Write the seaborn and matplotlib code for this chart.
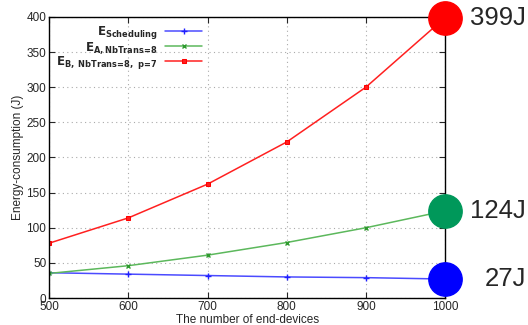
import matplotlib
matplotlib.use('Agg')
import matplotlib.pyplot as plt
import seaborn as sns
import pandas as pd

# Data
devices = [500, 600, 700, 800, 900, 1000]
e_sched = [36, 34, 32, 30, 29, 27]
e_a = [35, 46, 61, 79, 100, 124]
e_b = [78, 114, 162, 222, 300, 399]

end_labels = ['399J', '124J', '27J']
end_values = [e_b[-1], e_a[-1], e_sched[-1]]
end_colors = ['#ff0000', '#00985a', '#0000ff']

sns.set_style('ticks')
plt.rcParams['font.family'] = ['Liberation Sans', 'DejaVu Sans']

df = pd.DataFrame({'devices': devices, 'sched': e_sched, 'a': e_a, 'b': e_b})

fig = plt.figure(figsize=(5.28, 3.25), dpi=100)
ax = fig.add_axes([0.093, 0.083, 0.75, 0.865])

sns.lineplot(data=df, x='devices', y='sched', ax=ax, color='#4b4bff', marker='+',
             markersize=4, markeredgewidth=1, markeredgecolor='#2020ff', lw=1.1,
             label=r'$\mathbf{E_{Scheduling}}$')
sns.lineplot(data=df, x='devices', y='a', ax=ax, color='#5cb85c', marker='x',
             markersize=3, markeredgewidth=1, markeredgecolor='#2e9a2e', lw=1.1,
             label=r'$\mathbf{E_{A,NbTrans\!=\!8}}$')
sns.lineplot(data=df, x='devices', y='b', ax=ax, color='#ff2020', marker='s',
             markersize=2.5, markeredgecolor='#ff0000', lw=1.1,
             label=r'$\mathbf{E_{B,\ NbTrans\!=\!8,\ p\!=\!7}}$')

# big end-point circles with annotations
for val, lab, col in zip(end_values, end_labels, end_colors):
    ax.plot([devices[-1]], [val], 'o', color=col, markersize=24, clip_on=False, zorder=5)
    ax.annotate(lab, (devices[-1], val), xytext=(58, 0), textcoords='offset points',
                va='center', ha='right', fontsize=18.5, annotation_clip=False)

ax.set_xlim(500, 1000)
ax.set_ylim(0, 400)
ax.set_xticks(devices)
ax.set_yticks(range(0, 401, 50))
ax.grid(True, color='#aaaaaa', linestyle=(0, (1, 3)), lw=0.8)
ax.tick_params(direction='in', top=True, right=True, labelsize=8.5, length=4, pad=2)
for s in ax.spines.values():
    s.set_linewidth(1.0)
    s.set_color('black')

ax.set_xlabel('The number of end-devices', fontsize=8.5, labelpad=1)
ax.set_ylabel('Energy-consumption (J)', fontsize=8.5, labelpad=2)

leg = ax.legend(loc='upper left', bbox_to_anchor=(0.0, 1.0), frameon=False, markerfirst=False,
                fontsize=8.5, handlelength=3.2, labelspacing=-0.1, borderaxespad=0.2,
                handletextpad=0.6)
for t in leg.get_texts():
    t.set_ha('right')

fig.savefig('out.png', dpi=100)
